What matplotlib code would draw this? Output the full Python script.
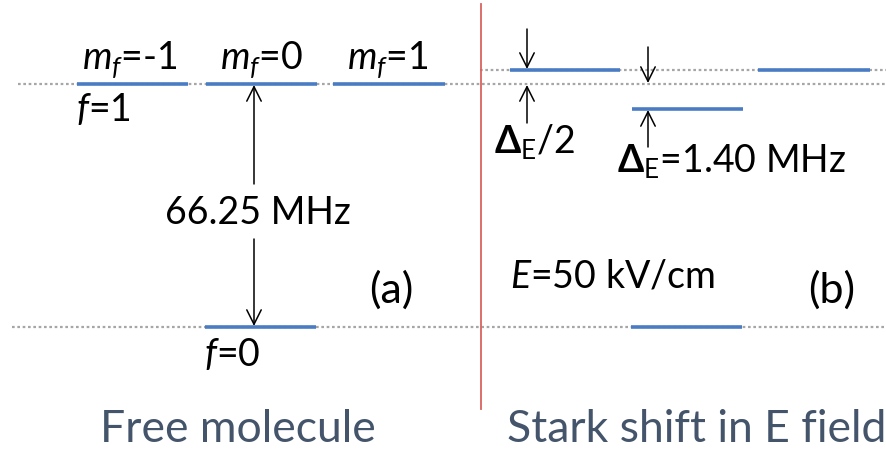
import matplotlib.pyplot as plt

# diagram in pixel-like units (y grows downward)
# energy levels: (x_start, x_end, y)
free_levels = [(77, 188, 85), (206, 317, 85), (333, 445, 85), (205, 316, 328)]
stark_levels = [(510, 620, 71), (758, 870, 71), (632, 743, 110), (631, 742, 328)]
# dotted reference lines: (x_start, x_end, y)
ref_lines = [(18, 887, 85), (12, 887, 328), (480, 887, 71)]

mf_labels = ['$m_f$=-1', '$m_f$=0', '$m_f$=1']
mf_x = [130, 262, 388]
hfs_label = '66.25 MHz'
stark_label = r'$\mathbf{\Delta}_{\mathrm{E}}$=1.40 MHz'
half_label = r'$\mathbf{\Delta}_{\mathrm{E}}$/2'
field_label = '$E$=50 kV/cm'
captions = ['Free molecule', 'Stark shift in E field']
caption_x = [238, 697]

plt.rcParams['font.family'] = ['Lato', 'DejaVu Sans']
plt.rcParams['mathtext.fontset'] = 'custom'
plt.rcParams['mathtext.rm'] = 'Lato'
plt.rcParams['mathtext.it'] = 'Lato:italic'
plt.rcParams['mathtext.bf'] = 'Lato:bold'

fig = plt.figure(figsize=(8.87, 4.52), dpi=100)
ax = fig.add_axes([0, 0, 1, 1])
ax.set_xlim(0, 887)
ax.set_ylim(452, 0)
ax.axis('off')

blue = '#4a7cc4'
for x0, x1, y in ref_lines:
    ax.plot([x0, x1], [y, y], color='#a6a6a6', lw=1.6, ls=(0, (1.2, 1.2)), zorder=1)
for x0, x1, y in free_levels + stark_levels:
    ax.plot([x0, x1], [y, y], color=blue, lw=2.6, solid_capstyle='butt', zorder=2)

# divider
ax.plot([481, 481], [5, 410], color='#d9625f', lw=1.3)

fs = 27
for lab, x in zip(mf_labels, mf_x):
    ax.text(x, 60, lab, ha='center', va='center', fontsize=fs)
ax.text(76, 110, '$f$=1', ha='left', va='center', fontsize=fs)
ax.text(232, 355, '$f$=0', ha='center', va='center', fontsize=fs)
ax.text(391, 290, '(a)', ha='center', va='center', fontsize=31)
ax.text(832, 290, '(b)', ha='center', va='center', fontsize=31)
ax.text(612, 277, field_label, ha='center', va='center', fontsize=fs)

# hyperfine splitting arrow
arr = dict(arrowstyle='->', color='black', lw=1.1, mutation_scale=26, shrinkA=0, shrinkB=0)
ax.annotate('', xy=(254, 86), xytext=(254, 185), arrowprops=arr)
ax.annotate('', xy=(254, 327), xytext=(254, 240), arrowprops=arr)
ax.text(258, 213, hfs_label, ha='center', va='center', fontsize=fs)

# stark shift arrows
ax.annotate('', xy=(527, 70), xytext=(527, 30), arrowprops=arr)
ax.annotate('', xy=(527, 86), xytext=(527, 124), arrowprops=arr)
ax.annotate('', xy=(648, 84), xytext=(648, 48), arrowprops=arr)
ax.annotate('', xy=(648, 111), xytext=(648, 148), arrowprops=arr)
ax.text(535, 142, half_label, ha='center', va='center', fontsize=fs)
ax.text(732, 161, stark_label, ha='center', va='center', fontsize=fs)

for lab, x in zip(captions, caption_x):
    ax.text(x, 430, lab, ha='center', va='center', fontsize=32, color='#44546a')

fig.savefig('out.png', dpi=100)
